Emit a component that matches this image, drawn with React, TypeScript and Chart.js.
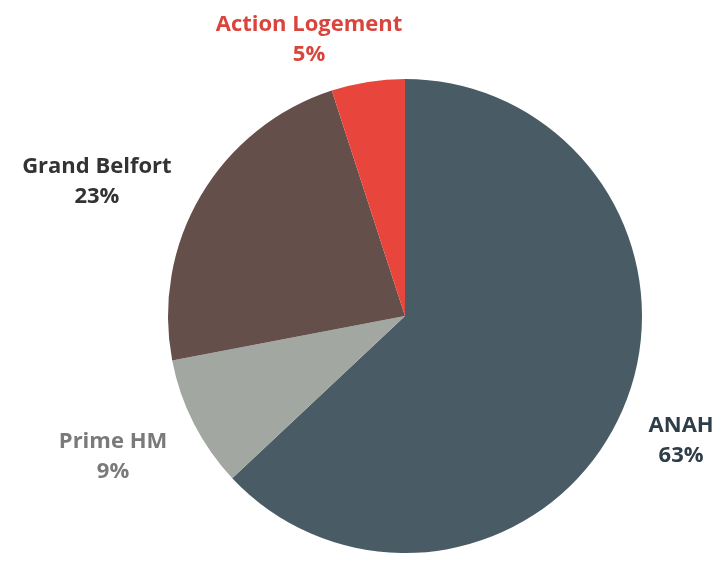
import React, { useEffect, useRef } from "react";
import { Chart, registerables } from "chart.js";

Chart.register(...registerables);

const categories = ["ANAH", "Prime HM", "Grand Belfort", "Action Logement"];
const shares = [63, 9, 23, 5];
const percentLabels = ["63%", "9%", "23%", "5%"];
const sliceColors = ["#495c66", "#a2a8a1", "#654f4b", "#e8463d"];
const labelColors = ["#2e3e48", "#7a7a7a", "#333333", "#d9453c"];
// label anchor relative to the pie centre, in units of the pie radius
const labelAnchors: [number, number][] = [
  [1.165, 0.527],
  [-1.232, 0.595],
  [-1.3, -0.565],
  [-0.405, -1.165],
];

const labelPlugin = {
  id: "pieLabels",
  afterDatasetsDraw(chart: any) {
    const meta = chart.getDatasetMeta(0);
    const ctx = chart.ctx;
    ctx.save();
    ctx.textAlign = "center";
    ctx.textBaseline = "middle";
    ctx.font = "bold 22px 'Open Sans'";
    meta.data.forEach((arc: any, i: number) => {
      const { x, y, outerRadius } = arc.getProps(["x", "y", "outerRadius"], true);
      const lx = x + labelAnchors[i][0] * outerRadius;
      const ly = y + labelAnchors[i][1] * outerRadius;
      ctx.fillStyle = labelColors[i];
      ctx.fillText(categories[i], lx, ly - 15);
      ctx.fillText(percentLabels[i], lx, ly + 15);
    });
    ctx.restore();
  },
};

export default function App() {
  const canvasRef = useRef<HTMLCanvasElement | null>(null);
  useEffect(() => {
    document.body.style.margin = "0";
    const chart = new Chart(canvasRef.current!, {
      type: "pie",
      data: {
        labels: categories,
        datasets: [
          {
            data: shares,
            backgroundColor: sliceColors,
            borderWidth: 0,
          },
        ],
      },
      options: {
        animation: false,
        responsive: false,
        layout: { padding: { top: 79, bottom: 10, left: 167, right: 80 } },
        plugins: { legend: { display: false }, tooltip: { enabled: false } },
      },
      plugins: [labelPlugin],
    });
    return () => chart.destroy();
  }, []);
  return (
    <div style={{ width: 723, height: 563, background: "#ffffff" }}>
      <canvas ref={canvasRef} width={723} height={563} />
    </div>
  );
}
